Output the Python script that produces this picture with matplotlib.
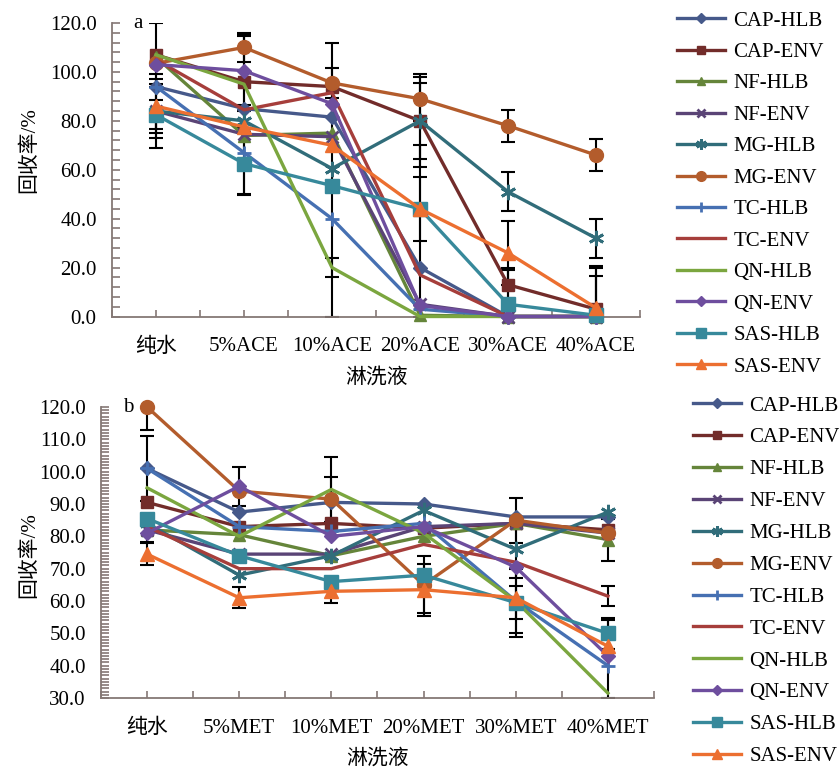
import numpy as np
import matplotlib
matplotlib.use('Agg')
import matplotlib.pyplot as plt
from matplotlib.ticker import MultipleLocator

plt.rcParams['font.family'] = ['Liberation Serif', 'Noto Sans CJK SC', 'DejaVu Sans']

# ---- data ----
series = ['CAP-HLB', 'CAP-ENV', 'NF-HLB', 'NF-ENV', 'MG-HLB', 'MG-ENV',
          'TC-HLB', 'TC-ENV', 'QN-HLB', 'QN-ENV', 'SAS-HLB', 'SAS-ENV']

cats_a = ['纯水', '5%ACE', '10%ACE', '20%ACE', '30%ACE', '40%ACE']
cats_b = ['纯水', '5%MET', '10%MET', '20%MET', '30%MET', '40%MET']

vals_a = {
    'CAP-HLB': [94, 85, 81.5, 20, 0, 0],
    'CAP-ENV': [107, 96, 94, 80, 13, 3],
    'NF-HLB': [106, 74, 75, 0.5, 0, 0],
    'NF-ENV': [84, 74.5, 73.5, 5, 0, 0],
    'MG-HLB': [84, 80, 60.5, 80, 51, 32],
    'MG-ENV': [103.5, 110, 95.5, 89, 78, 66],
    'TC-HLB': [94, 67, 40, 3, 0, 0],
    'TC-ENV': [105, 84.5, 91.5, 17, 0, 0],
    'QN-HLB': [107, 95, 20, 0, 0, 0],
    'QN-ENV': [103, 100.5, 87, 4.5, 0, 0],
    'SAS-HLB': [82.5, 62.5, 53.5, 44, 5, 0.5],
    'SAS-ENV': [86, 77.5, 70, 44, 26, 3.5],
}
err_a = {
    'CAP-HLB': [0, 0, 0, 50, 0, 0],
    'CAP-ENV': [13, 19, 0, 15.6, 6, 17],
    'NF-HLB': [0, 0, 0, 0, 0, 0],
    'NF-ENV': [11, 0, 0, 0, 0, 0],
    'MG-HLB': [15, 0, 0, 19, 8, 8],
    'MG-ENV': [0, 6, 6, 9, 6.5, 6.5],
    'TC-HLB': [0, 17, 72, 0, 0, 0],
    'TC-ENV': [0, 0, 0, 0, 0, 0],
    'QN-HLB': [0, 0, 4, 0, 0, 0],
    'QN-ENV': [0, 14, 0, 0, 0, 0],
    'SAS-HLB': [6, 13, 0, 0, 15, 16],
    'SAS-ENV': [11, 0, 0, 13, 13, 17],
}

vals_b = {
    'CAP-HLB': [101, 87.5, 90.5, 90, 86, 86],
    'CAP-ENV': [90.5, 83, 84, 82.5, 84, 82],
    'NF-HLB': [82, 80.5, 74, 80, 84, 79],
    'NF-ENV': [82, 74.5, 74.5, 83, 84, 81],
    'MG-HLB': [84, 68, 74, 88, 76, 87.5],
    'MG-ENV': [120, 94, 91.5, 65, 85, 81],
    'TC-HLB': [101, 83, 81.5, 84, 60, 40],
    'TC-ENV': [83, 70, 70, 77.5, 72, 61.5],
    'QN-HLB': [95, 80, 94.5, 81, 60, 31.5],
    'QN-ENV': [81, 95.5, 80, 83, 70.5, 43],
    'SAS-HLB': [85.5, 74, 66, 68, 59.5, 50],
    'SAS-ENV': [74.5, 61, 63, 63.5, 61, 46],
}
err_b = {
    'CAP-HLB': [10, 0, 0, 0, 0, 0],
    'CAP-ENV': [0, 0, 0, 0, 0, 0],
    'NF-HLB': [0, 0, 0, 0, 0, 6.5],
    'NF-ENV': [0, 0, 0, 0, 0, 0],
    'MG-HLB': [0, 0, 0, 0, 9, 0],
    'MG-ENV': [7, 0, 7, 8.8, 7, 0],
    'TC-HLB': [0, 0, 0, 0, 10, 14],
    'TC-ENV': [0, 0, 0, 0, 0, 3],
    'QN-HLB': [0, 0, 10, 0, 11, 0],
    'QN-ENV': [2.6, 6, 0, 0, 0, 0],
    'SAS-HLB': [0, 0, 0, 0, 5, 4.7],
    'SAS-ENV': [3.3, 3.3, 3.5, 8, 0, 0],
}

colors = {
    'CAP-HLB': '#46598A', 'CAP-ENV': '#722C2A', 'NF-HLB': '#65853A',
    'NF-ENV': '#5A4476', 'MG-HLB': '#316D7A', 'MG-ENV': '#B35C2C',
    'TC-HLB': '#4670B2', 'TC-ENV': '#A63E3B', 'QN-HLB': '#7BA63F',
    'QN-ENV': '#6E4E9E', 'SAS-HLB': '#37899B', 'SAS-ENV': '#EC6F30',
}
markers = {
    'CAP-HLB': ('D', 7), 'CAP-ENV': ('s', 9), 'NF-HLB': ('^', 8),
    'NF-ENV': ('x', 9), 'MG-HLB': ((6, 2, 0), 11), 'MG-ENV': ('o', 10),
    'TC-HLB': ('+', 10), 'TC-ENV': ('', 0), 'QN-HLB': ('', 0),
    'QN-ENV': ('D', 7), 'SAS-HLB': ('s', 10), 'SAS-ENV': ('^', 10),
}

axis_col = '#857875'
fs = 15

fig = plt.figure(figsize=(8.39, 7.7), dpi=100)


def draw(ax, cats, vals, errs, ymin, ymax, major, minor, tag):
    x = np.arange(len(cats))
    for name in series:
        m, ms = markers[name]
        mew = 2 if m in ('x', '+') or isinstance(m, tuple) else 1
        ax.plot(x, vals[name], color=colors[name], lw=2.4, marker=m if m else None,
                ms=ms, mew=mew, mfc=colors[name], mec=colors[name], label=name,
                zorder=3, clip_on=False)
    for name in series:
        e = np.array(errs[name], dtype=float)
        v = np.array(vals[name], dtype=float)
        keep = e > 0
        if keep.any():
            lo = np.minimum(e[keep], v[keep] - ymin)
            hi = np.minimum(e[keep], ymax - v[keep])
            ax.errorbar(x[keep], v[keep], yerr=[lo, hi], fmt='none', ecolor='black',
                        elinewidth=1.5, capsize=5, capthick=1.5, zorder=2.5)
    ax.set_xlim(-0.5, len(cats) - 0.5)
    ax.set_ylim(ymin, ymax)
    ax.yaxis.set_major_locator(MultipleLocator(major))
    ax.yaxis.set_minor_locator(MultipleLocator(minor))
    ax.yaxis.set_major_formatter(plt.FormatStrFormatter('%.1f'))
    ax.set_xticks(x)
    ax.set_xticklabels(cats)
    ax.set_xticks(np.arange(-0.5, len(cats), 1.0), minor=True)
    for s in ['top', 'right']:
        ax.spines[s].set_visible(False)
    for s in ['left', 'bottom']:
        ax.spines[s].set_color(axis_col)
        ax.spines[s].set_linewidth(1.3)
    ax.tick_params(axis='both', which='both', direction='in', color=axis_col,
                   labelsize=fs, width=1.2)
    ax.tick_params(axis='y', which='major', length=6, pad=11)
    ax.tick_params(axis='y', which='minor', length=6)
    ax.tick_params(axis='x', which='both', length=5, pad=15)
    ax.text(0.04, 1.0, tag, transform=ax.transAxes, fontsize=fs, va='center')
    ax.set_xlabel('淋洗液', fontsize=fs, labelpad=8)


ax1 = fig.add_axes([112 / 839, 1 - 316.5 / 770, 528 / 839, 293.5 / 770])
draw(ax1, cats_a, vals_a, err_a, 0, 120, 20, 4, 'a')
ax2 = fig.add_axes([101 / 839, 1 - 698 / 770, 553 / 839, 291 / 770])
draw(ax2, cats_b, vals_b, err_b, 30, 120, 10, 1, 'b')

fig.text(30 / 839, 1 - 150 / 770, '回收率/%', rotation=90, fontsize=fs,
         ha='center', va='center')
fig.text(30 / 839, 1 - 555 / 770, '回收率/%', rotation=90, fontsize=fs,
         ha='center', va='center')

h, l = ax1.get_legend_handles_labels()
leg_kw = dict(frameon=False, fontsize=fs, borderpad=0, borderaxespad=0,
              handlelength=2.3, handletextpad=0.4,
              loc='upper left', markerscale=0.7)
fig.legend(h, l, bbox_to_anchor=(677 / 839, 1 - 11 / 770), labelspacing=0.57, **leg_kw)
fig.legend(h, l, bbox_to_anchor=(693 / 839, 1 - 396 / 770), labelspacing=0.59, **leg_kw)

fig.savefig('out.png', dpi=100)
